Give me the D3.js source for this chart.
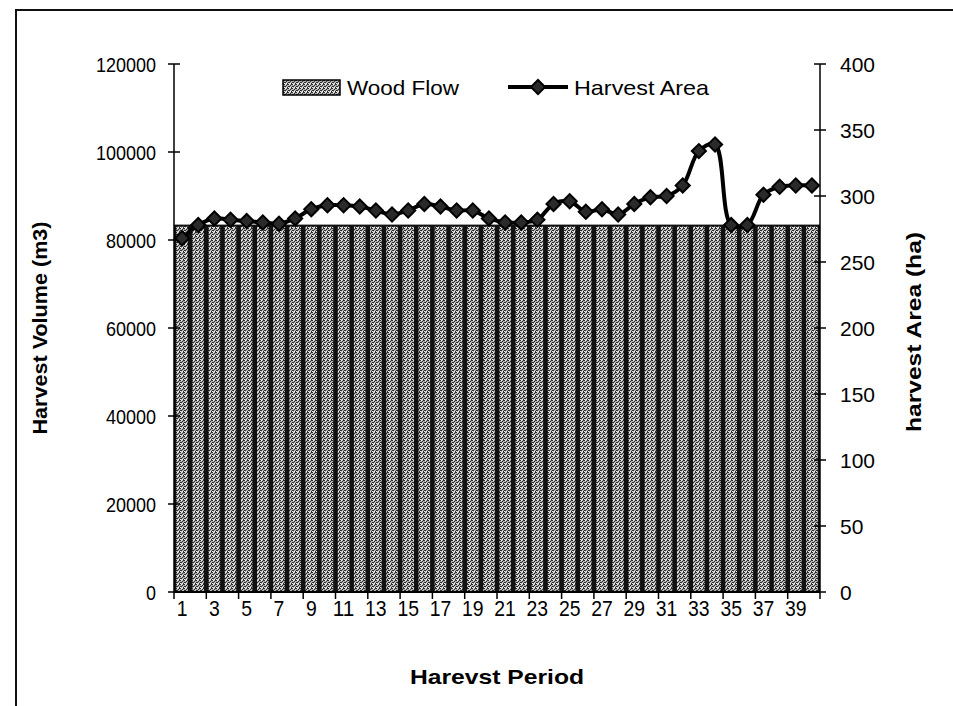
<!DOCTYPE html>
<html>
<head>
<meta charset="utf-8">
<script src="https://cdn.jsdelivr.net/npm/d3@7"></script>
<style>
  body { margin: 0; background: #fff; }
  svg { display: block; font-family: "Liberation Sans", Arial, sans-serif; }
</style>
</head>
<body>
<svg id="chart" width="953" height="706"></svg>
<script>
const periods = d3.range(1, 41);
const woodFlow = periods.map(() => 83500);
const harvestArea = [268, 278, 283, 282, 281, 280, 279, 283, 290, 293,
  293, 292, 289, 286, 289, 294, 292, 289, 289, 283,
  280, 280, 282, 294, 296, 288, 290, 286, 294, 299,
  300, 308, 334, 339, 278, 278, 301, 307, 308, 308];
const leftTicks = [0, 20000, 40000, 60000, 80000, 100000, 120000];
const rightTicks = [0, 50, 100, 150, 200, 250, 300, 350, 400];
const xLabels = periods.filter((p) => p % 2 === 1);

const svg = d3.select('#chart');
const plotLeft = 174, plotRight = 820, plotTop = 64, plotBottom = 592;

// page frame (scanned look)
svg.append('path')
  .attr('d', 'M16,706 L16,10 L953,10')
  .attr('fill', 'none')
  .attr('stroke', '#111')
  .attr('stroke-width', 2);

// stipple pattern for bars
const defs = svg.append('defs');
const pat = defs.append('pattern')
  .attr('id', 'stipple')
  .attr('width', 4).attr('height', 4)
  .attr('patternUnits', 'userSpaceOnUse');
pat.append('rect').attr('width', 4).attr('height', 4).attr('fill', '#b4b4b4');
[[0, 0], [2, 1], [1, 2], [3, 3], [3, 0], [0, 2]].forEach(([x, y]) => {
  pat.append('rect').attr('x', x).attr('y', y).attr('width', 1).attr('height', 1).attr('fill', '#2a2a2a');
});
[[1, 0], [0, 3], [2, 3]].forEach(([x, y]) => {
  pat.append('rect').attr('x', x).attr('y', y).attr('width', 1).attr('height', 1).attr('fill', '#f0f0f0');
});

const x = d3.scaleBand().domain(periods).range([plotLeft, plotRight]).paddingInner(0.16).paddingOuter(0.08);
const yL = d3.scaleLinear().domain([0, 120000]).range([plotBottom, plotTop]);
const yR = d3.scaleLinear().domain([0, 400]).range([plotBottom, plotTop]);

// black backdrop behind the bar block (gaps read as black in the scan)
svg.append('rect')
  .attr('x', plotLeft).attr('y', yL(d3.max(woodFlow)))
  .attr('width', plotRight - plotLeft).attr('height', plotBottom - yL(d3.max(woodFlow)))
  .attr('fill', '#111');

// bars
svg.append('g')
  .selectAll('rect')
  .data(periods)
  .join('rect')
  .attr('x', (d) => x(d) + 1)
  .attr('y', (d, i) => yL(woodFlow[i]) + 2)
  .attr('width', x.bandwidth() - 2)
  .attr('height', (d, i) => plotBottom - yL(woodFlow[i]) - 2)
  .attr('fill', 'url(#stipple)');

// left axis
const gL = svg.append('g').attr('transform', `translate(${plotLeft},0)`);
gL.append('line').attr('y1', plotTop).attr('y2', plotBottom).attr('stroke', '#000').attr('stroke-width', 1.5);
gL.selectAll('.t').data(leftTicks).join('line')
  .attr('x1', -6).attr('x2', 6)
  .attr('y1', (d) => yL(d)).attr('y2', (d) => yL(d))
  .attr('stroke', '#000').attr('stroke-width', 1.5);
gL.selectAll('text').data(leftTicks).join('text')
  .attr('x', -18).attr('y', (d) => yL(d)).attr('dy', '0.36em')
  .attr('text-anchor', 'end').attr('font-size', 21)
  .attr('textLength', (d) => String(d).length * 10).attr('lengthAdjust', 'spacingAndGlyphs')
  .text((d) => d);

// right axis
const gR = svg.append('g').attr('transform', `translate(${plotRight},0)`);
gR.append('line').attr('y1', plotTop).attr('y2', plotBottom).attr('stroke', '#000').attr('stroke-width', 1.5);
gR.selectAll('.t').data(rightTicks).join('line')
  .attr('x1', -6).attr('x2', 6)
  .attr('y1', (d) => yR(d)).attr('y2', (d) => yR(d))
  .attr('stroke', '#000').attr('stroke-width', 1.5);
gR.selectAll('text').data(rightTicks).join('text')
  .attr('x', 20).attr('y', (d) => yR(d)).attr('dy', '0.36em')
  .attr('text-anchor', 'start').attr('font-size', 21)
  .text((d) => d);

// x axis
const gX = svg.append('g');
gX.append('line').attr('x1', plotLeft).attr('x2', plotRight).attr('y1', plotBottom).attr('y2', plotBottom)
  .attr('stroke', '#000').attr('stroke-width', 2);
const step = x.step();
gX.selectAll('.t').data(xLabels.concat([41])).join('line')
  .attr('x1', (d) => plotLeft + (d - 1) * step).attr('x2', (d) => plotLeft + (d - 1) * step)
  .attr('y1', plotBottom).attr('y2', plotBottom + 7)
  .attr('stroke', '#000').attr('stroke-width', 1.5);
gX.selectAll('text').data(xLabels).join('text')
  .attr('x', (d) => x(d) + x.bandwidth() / 2)
  .attr('y', 616)
  .attr('text-anchor', 'middle').attr('font-size', 22)
  .attr('textLength', (d) => String(d).length * 10.8).attr('lengthAdjust', 'spacingAndGlyphs')
  .text((d) => d);

// line
const line = d3.line()
  .x((d, i) => x(periods[i]) + x.bandwidth() / 2)
  .y((d) => yR(d))
  .curve(d3.curveCatmullRom.alpha(0.5));
svg.append('path')
  .datum(harvestArea)
  .attr('d', line)
  .attr('fill', 'none')
  .attr('stroke', '#000')
  .attr('stroke-width', 4);

const diamond = d3.symbol().type(d3.symbolSquare).size(100);
svg.append('g')
  .selectAll('path')
  .data(harvestArea)
  .join('path')
  .attr('d', diamond)
  .attr('transform', (d, i) => `translate(${x(periods[i]) + x.bandwidth() / 2},${yR(d)}) rotate(45)`)
  .attr('fill', '#2a2a2a')
  .attr('stroke', '#000')
  .attr('stroke-width', 2);

// axis titles
svg.append('text')
  .attr('transform', 'translate(47,328) rotate(-90)')
  .attr('text-anchor', 'middle').attr('font-size', 21).attr('font-weight', 'bold')
  .attr('textLength', 213).attr('lengthAdjust', 'spacingAndGlyphs')
  .text('Harvest Volume (m3)');
svg.append('text')
  .attr('transform', 'translate(921,332) rotate(-90)')
  .attr('text-anchor', 'middle').attr('font-size', 21).attr('font-weight', 'bold')
  .attr('textLength', 200).attr('lengthAdjust', 'spacingAndGlyphs')
  .text('harvest Area (ha)');
svg.append('text')
  .attr('x', 497).attr('y', 684)
  .attr('text-anchor', 'middle').attr('font-size', 21).attr('font-weight', 'bold')
  .attr('textLength', 174).attr('lengthAdjust', 'spacingAndGlyphs')
  .text('Harevst Period');

// legend
const lg = svg.append('g');
lg.append('rect').attr('x', 283).attr('y', 80).attr('width', 57).attr('height', 15)
  .attr('fill', 'url(#stipple)').attr('stroke', '#000').attr('stroke-width', 1.5);
lg.append('text').attr('x', 347).attr('y', 95).attr('font-size', 21)
  .attr('textLength', 112).attr('lengthAdjust', 'spacingAndGlyphs').text('Wood Flow');
lg.append('line').attr('x1', 508).attr('x2', 568).attr('y1', 87).attr('y2', 87)
  .attr('stroke', '#000').attr('stroke-width', 4);
lg.append('path').attr('d', diamond)
  .attr('transform', 'translate(538,87) rotate(45)')
  .attr('fill', '#2a2a2a').attr('stroke', '#000').attr('stroke-width', 2);
lg.append('text').attr('x', 574).attr('y', 95).attr('font-size', 21)
  .attr('textLength', 135).attr('lengthAdjust', 'spacingAndGlyphs').text('Harvest Area');
</script>
</body>
</html>
